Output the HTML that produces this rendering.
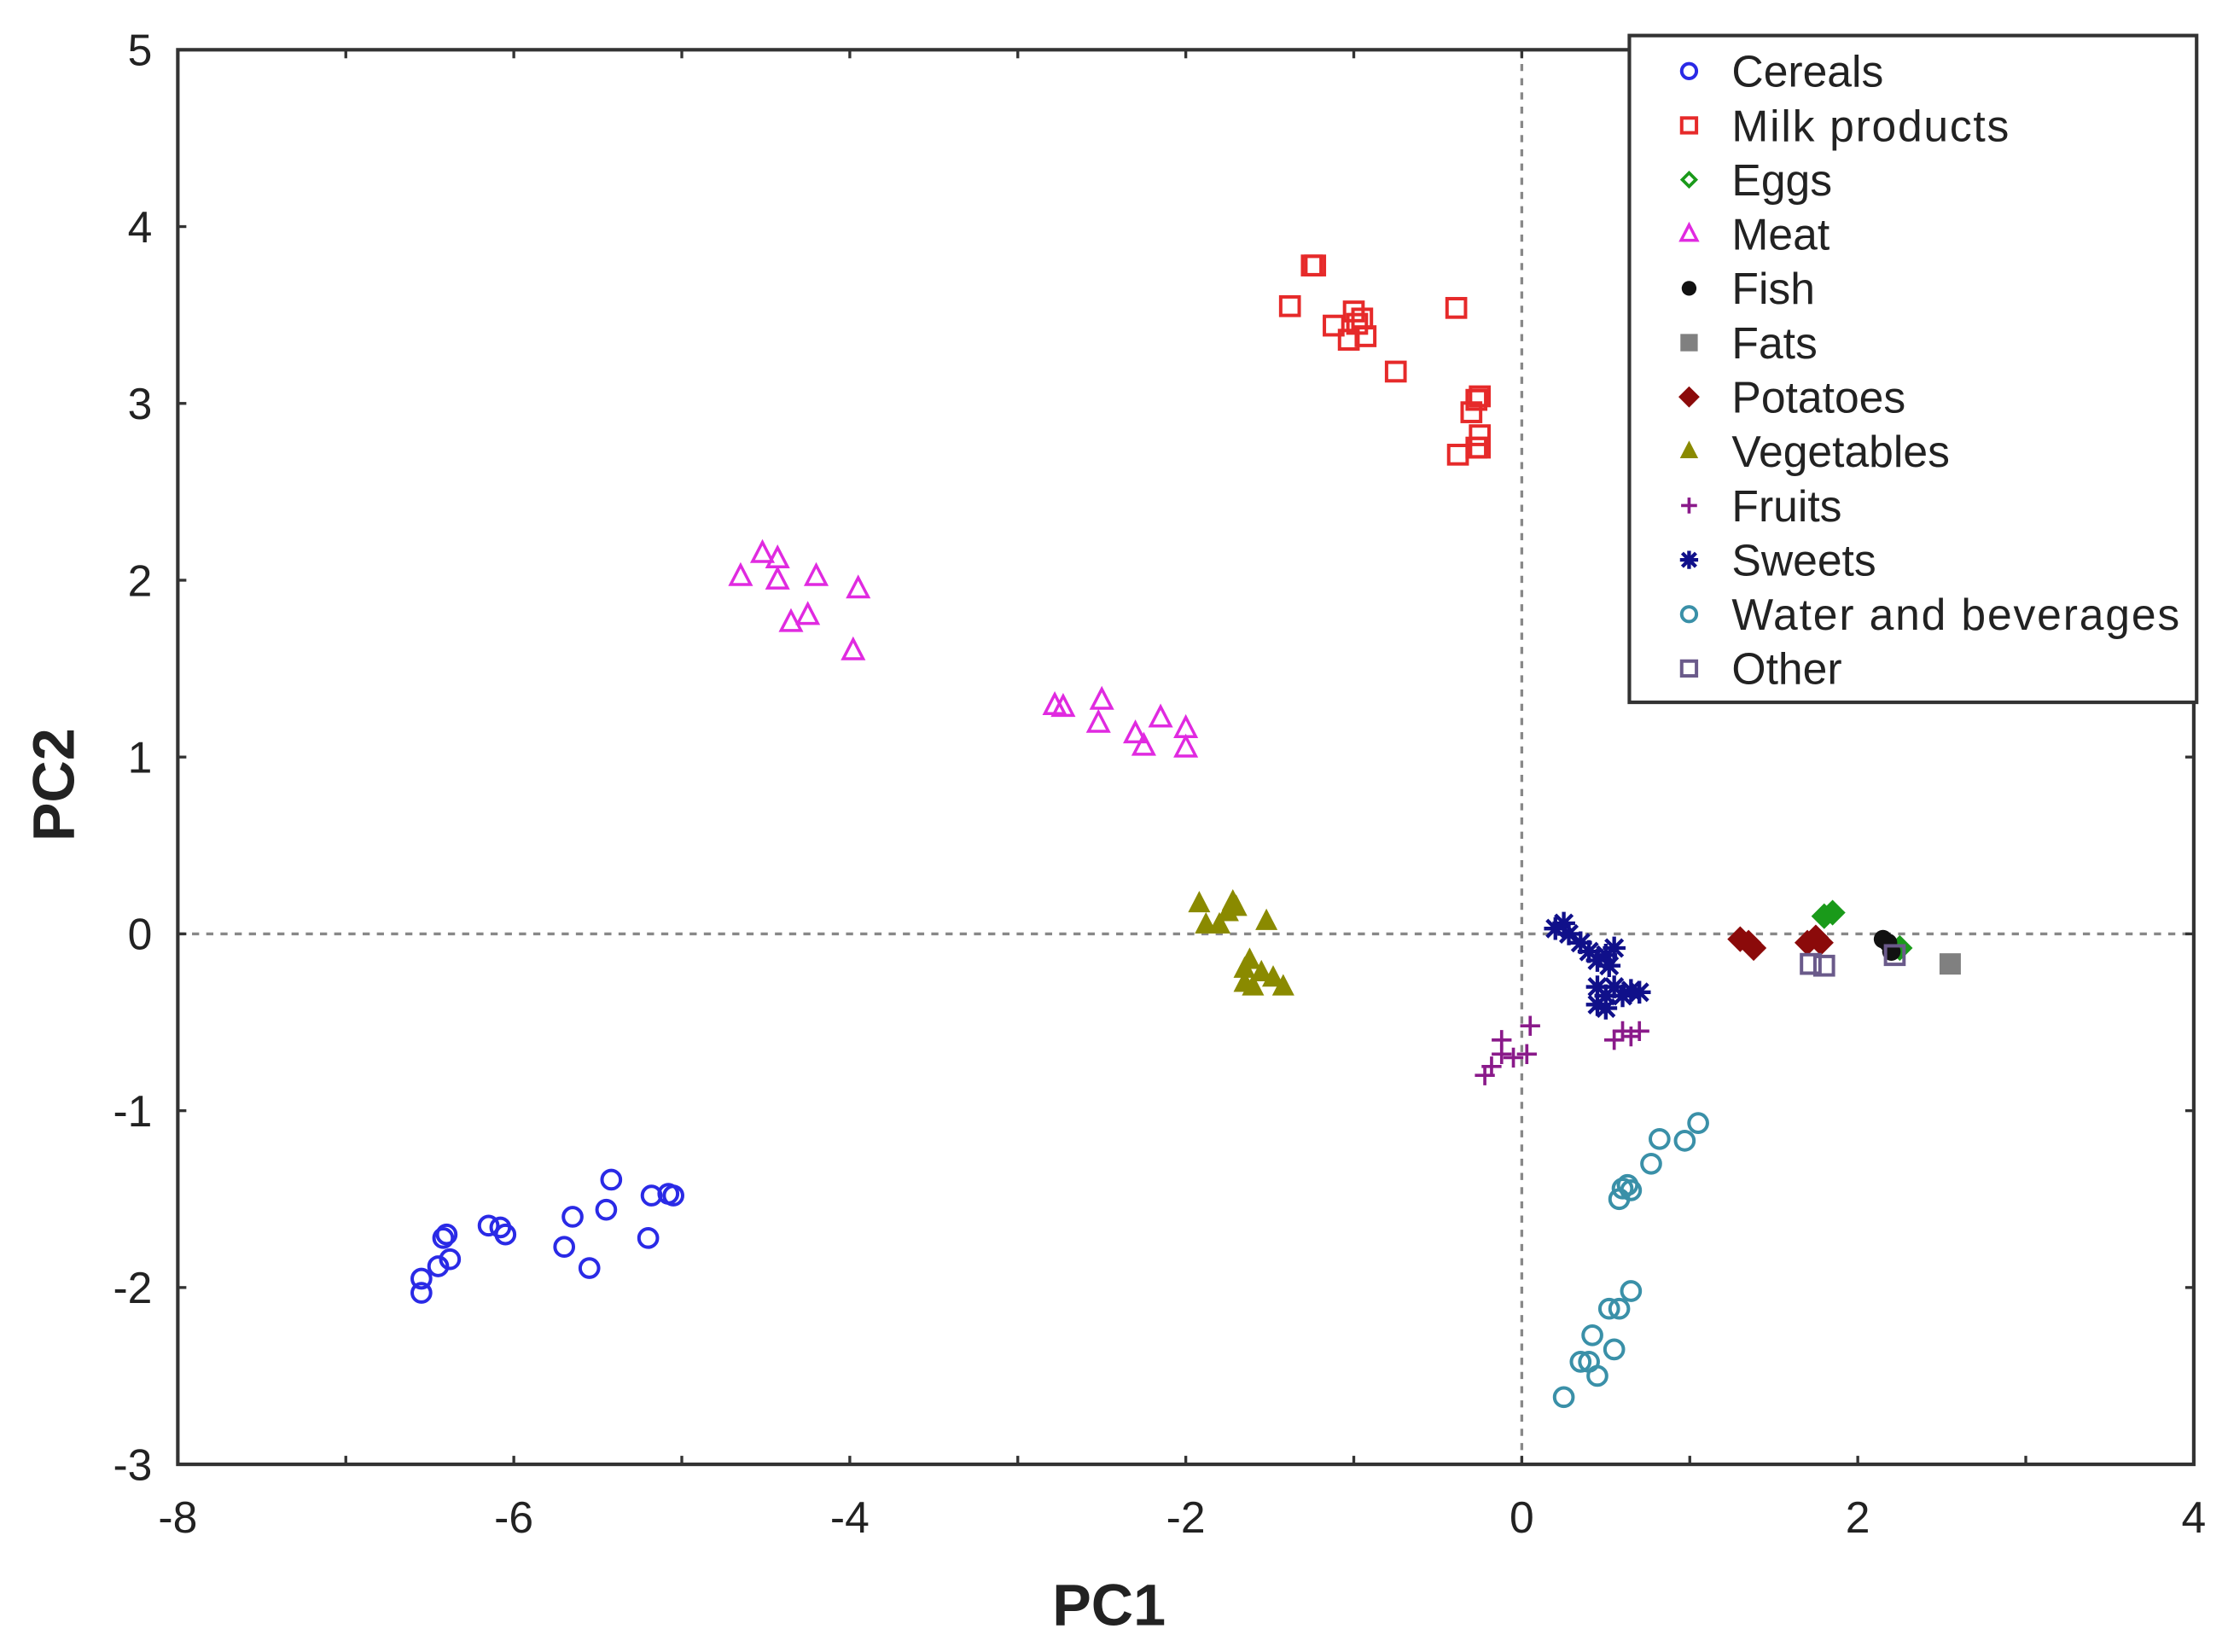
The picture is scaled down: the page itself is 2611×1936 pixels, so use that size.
<!DOCTYPE html>
<html><head><meta charset="utf-8"><style>
html,body{margin:0;padding:0;background:#fff}
svg{display:block}
text{font-family:"Liberation Sans",Arial,sans-serif}
</style></head><body>
<svg id="chart" width="2611" height="1936" viewBox="0 0 1567 1162" xmlns="http://www.w3.org/2000/svg">
<rect width="1567" height="1162" fill="#fff"/>
<g id="grid"></g>
<g id="marks"></g>
<g id="axes"></g>
<text x="780" y="1143" font-size="41" font-weight="bold" text-anchor="middle" fill="#222">PC1</text>
<text x="52" y="552" font-size="41" font-weight="bold" text-anchor="middle" fill="#222" transform="rotate(-90 52 552)">PC2</text>
<g id="legend"></g>
</svg>
<script>
const xTicks=[-8,-6,-4,-2,0,2,4];
const yTicks=[-3,-2,-1,0,1,2,3,4,5];
const seriesNames=["Cereals","Milk products","Eggs","Meat","Fish","Fats","Potatoes","Vegetables","Fruits","Sweets","Water and beverages","Other"];
const cerealsX=[-6.55,-6.55,-6.45,-6.4,-6.42,-6.38,-6.15,-6.08,-6.05,-5.7,-5.65,-5.55,-5.45,-5.42,-5.2,-5.18,-5.08,-5.05];
const cerealsY=[-1.95,-2.03,-1.88,-1.7,-1.72,-1.84,-1.65,-1.66,-1.7,-1.77,-1.6,-1.89,-1.56,-1.39,-1.72,-1.48,-1.47,-1.48];
const milkX=[-1.38,-1.25,-1.23,-1.12,-1.03,-1.0,-0.98,-0.95,-0.93,-0.75,-0.39,-0.3,-0.27,-0.25,-0.38,-0.27,-0.25,-0.25];
const milkY=[3.55,3.78,3.78,3.44,3.36,3.52,3.45,3.48,3.38,3.18,3.54,2.95,3.02,3.04,2.71,2.75,2.82,2.75];
const eggsX=[1.8,1.85,2.25];
const eggsY=[0.1,0.12,-0.08];
const meatX=[-4.65,-4.52,-4.43,-4.43,-4.35,-4.25,-4.2,-3.98,-3.95,-2.78,-2.73,-2.52,-2.5,-2.3,-2.25,-2.15,-2.0,-2.0];
const meatY=[2.02,2.15,2.12,2.0,1.76,1.8,2.02,1.6,1.95,1.29,1.28,1.19,1.32,1.13,1.06,1.22,1.16,1.05];
const fishX=[2.15,2.18,2.2];
const fishY=[-0.03,-0.05,-0.1];
const fatsX=[2.55];
const fatsY=[-0.17];
const potatoesX=[1.3,1.35,1.38,1.7,1.75,1.78];
const potatoesY=[-0.03,-0.05,-0.08,-0.05,-0.02,-0.05];
const vegX=[-1.92,-1.88,-1.8,-1.75,-1.72,-1.7,-1.52,-1.65,-1.62,-1.6,-1.55,-1.48,-1.42,-1.65];
const vegY=[0.17,0.05,0.05,0.12,0.18,0.15,0.07,-0.2,-0.15,-0.3,-0.22,-0.25,-0.3,-0.28];
const fruitsX=[-0.22,-0.18,-0.12,-0.12,-0.05,0.03,0.05,0.55,0.6,0.65,0.7];
const fruitsY=[-0.8,-0.75,-0.68,-0.6,-0.7,-0.68,-0.52,-0.6,-0.55,-0.58,-0.55];
const sweetsX=[0.2,0.25,0.28,0.35,0.4,0.45,0.5,0.55,0.52,0.45,0.5,0.55,0.6,0.65,0.7,0.45,0.5];
const sweetsY=[0.03,0.06,0.0,-0.05,-0.1,-0.15,-0.12,-0.08,-0.18,-0.3,-0.35,-0.3,-0.35,-0.32,-0.33,-0.4,-0.42];
const waterX=[0.25,0.35,0.4,0.42,0.45,0.52,0.55,0.58,0.65,0.58,0.6,0.63,0.65,0.77,0.82,0.97,1.05];
const waterY=[-2.62,-2.42,-2.42,-2.27,-2.5,-2.12,-2.35,-2.12,-2.02,-1.5,-1.44,-1.42,-1.45,-1.3,-1.16,-1.17,-1.07];
const otherX=[1.72,1.8,2.22];
const otherY=[-0.17,-0.18,-0.12];

const L=125,R=1543,T=35,B=1030;
const sx=v=>L+(v+8)/12*(R-L);
const sy=v=>B-(v+3)/8*(B-T);
const NS="http://www.w3.org/2000/svg";
function mk(tag,attrs,parent){const e=document.createElementNS(NS,tag);for(const k in attrs)e.setAttribute(k,attrs[k]);parent.appendChild(e);return e;}

function marker(shape,color,x,y,parent,s){
  s=s||1;let e;
  if(shape==="circle") e=mk("circle",{cx:x,cy:y,r:6.5*s,fill:"none",stroke:color,"stroke-width":2.4},parent);
  else if(shape==="square") e=mk("rect",{x:x-6.5*s,y:y-6.5*s,width:13*s,height:13*s,fill:"none",stroke:color,"stroke-width":2.4},parent);
  else if(shape==="fsquare") e=mk("rect",{x:x-7*s,y:y-7*s,width:14*s,height:14*s,fill:color,stroke:color,"stroke-width":1},parent);
  else if(shape==="diamond") e=mk("path",{d:`M${x} ${y-8*s}L${x+8*s} ${y}L${x} ${y+8*s}L${x-8*s} ${y}Z`,fill:color,stroke:color,"stroke-width":1.5},parent);
  else if(shape==="odiamond") e=mk("path",{d:`M${x} ${y-6*s}L${x+6*s} ${y}L${x} ${y+6*s}L${x-6*s} ${y}Z`,fill:"none",stroke:color,"stroke-width":2.2},parent);
  else if(shape==="triangle") e=mk("path",{d:`M${x} ${y-8*s}L${x+7*s} ${y+5.5*s}L${x-7*s} ${y+5.5*s}Z`,fill:"none",stroke:color,"stroke-width":2.1},parent);
  else if(shape==="ftriangle") e=mk("path",{d:`M${x} ${y-8*s}L${x+7*s} ${y+5.5*s}L${x-7*s} ${y+5.5*s}Z`,fill:color,stroke:color,"stroke-width":1},parent);
  else if(shape==="dot") e=mk("circle",{cx:x,cy:y,r:6.5*s,fill:color},parent);
  else if(shape==="plus") e=mk("path",{d:`M${x-7*s} ${y}H${x+7*s}M${x} ${y-7*s}V${y+7*s}`,stroke:color,"stroke-width":2.2,fill:"none"},parent);
  else if(shape==="star") e=mk("path",{d:`M${x-8*s} ${y}H${x+8*s}M${x} ${y-8*s}V${y+8*s}M${x-6*s} ${y-6*s}L${x+6*s} ${y+6*s}M${x-6*s} ${y+6*s}L${x+6*s} ${y-6*s}`,stroke:color,"stroke-width":2.6,fill:"none"},parent);
  return e;
}

const grid=document.getElementById("grid");
const zx=mk("line",{x1:sx(0),x2:sx(0),y1:T,y2:B,stroke:"#888","stroke-width":2,"stroke-dasharray":"5,5"},grid);


const zy=mk("line",{x1:L,x2:R,y1:sy(0),y2:sy(0),stroke:"#888","stroke-width":2,"stroke-dasharray":"5,5"},grid);



const series=[
 ["cereals",cerealsX,cerealsY,"circle","#2a2ae6","circle"],
 ["milk-products",milkX,milkY,"square","#e62a2a","square"],
 ["eggs",eggsX,eggsY,"diamond","#1a9a1a","odiamond"],
 ["meat",meatX,meatY,"triangle","#e02ae0","triangle"],
 ["fish",fishX,fishY,"dot","#111","dot"],
 ["fats",fatsX,fatsY,"fsquare","#808080","fsquare"],
 ["potatoes",potatoesX,potatoesY,"diamond","#8b0a0a","diamond"],
 ["vegetables",vegX,vegY,"ftriangle","#8a8a00","ftriangle"],
 ["fruits",fruitsX,fruitsY,"plus","#8a1a8a","plus"],
 ["sweets",sweetsX,sweetsY,"star","#10108a","star"],
 ["water-and-beverages",waterX,waterY,"circle","#3a90a8","circle"],
 ["other",otherX,otherY,"square","#6a5a8a","square"]
];
const marks=document.getElementById("marks");
series.forEach(s=>{
  const g=mk("g",{},marks);
  
  
  s[1].forEach((v,i)=>{
    const p=marker(s[3],s[4],sx(v),sy(s[2][i]),g);
    
    
  });
});

const axes=document.getElementById("axes");
const frame=mk("rect",{x:L,y:T,width:R-L,height:B-T,fill:"none",stroke:"#333","stroke-width":2.5},axes);


xTicks.forEach(v=>{
  const t=mk("text",{x:sx(v),y:B+48,"font-size":31,"text-anchor":"middle",fill:"#222"},axes);
  t.textContent=v;
  
  
});
for(let v=-8;v<=4;v++){mk("line",{x1:sx(v),x2:sx(v),y1:B,y2:B-6,stroke:"#333","stroke-width":2},axes);mk("line",{x1:sx(v),x2:sx(v),y1:T,y2:T+6,stroke:"#333","stroke-width":2},axes);}
yTicks.forEach(v=>{
  const t=mk("text",{x:L-18,y:sy(v)+11,"font-size":31,"text-anchor":"end",fill:"#222"},axes);
  t.textContent=v;
  
  
  mk("line",{x1:L,x2:L+6,y1:sy(v),y2:sy(v),stroke:"#333","stroke-width":2},axes);
  mk("line",{x1:R,x2:R-6,y1:sy(v),y2:sy(v),stroke:"#333","stroke-width":2},axes);
});

const leg=document.getElementById("legend");


mk("rect",{x:1146,y:25,width:399,height:469,fill:"#fff",stroke:"#333","stroke-width":2.5},leg);
series.forEach((s,i)=>{
  const y=50+i*38.2;
  const g=mk("g",{},leg);
  
  
  marker(s[5],s[4],1188,y,g,0.8);
  const t=mk("text",{x:1218,y:y+11,"font-size":31,fill:"#222"},g);
  t.textContent=seriesNames[i];
  const w={"Water and beverages":315,"Milk products":195}[seriesNames[i]];
  if(w) t.setAttribute("textLength",w);
});
</script>
</body></html>
